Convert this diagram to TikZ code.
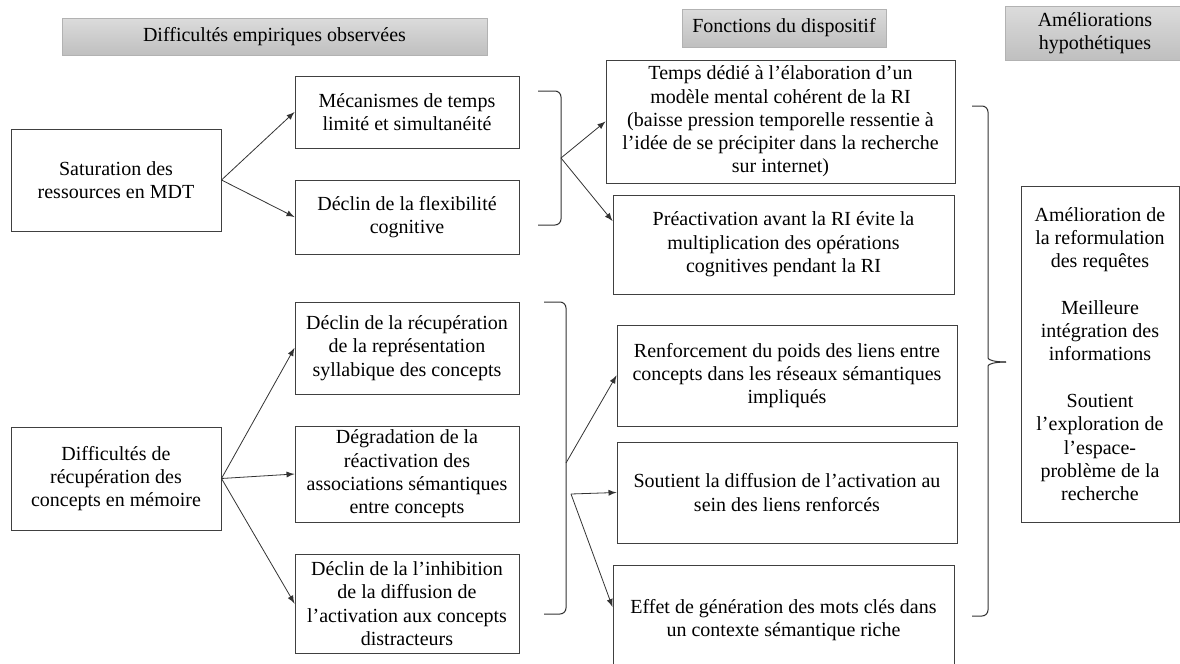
\documentclass[tikz,border=0pt]{standalone}
\usepackage{fontspec}
\setmainfont{Liberation Serif}

\begin{document}
\begin{tikzpicture}[x=0.5pt,y=-0.5pt,
    every node/.style={font=\fontsize{10}{11.65}\selectfont},
    box/.style={draw=black!75,line width=0.5pt,fill=white,align=center,inner sep=1pt},
    head/.style={draw=gray!60,line width=0.4pt,top color=gray!28,bottom color=gray!50,align=center,inner sep=1pt},
    link/.style={draw=black!80,line width=0.4pt,-latex},
    brace/.style={draw=black!80,line width=0.5pt,rounded corners=3pt}]
  \useasboundingbox (0,0) rectangle (1180,664);
  \clip (0,0) rectangle (1180,664);

  \node[head,minimum width=212.5pt,minimum height=18.5pt] (hdA) at (274.5,36.5) {Difficultés empiriques observées};
  \node[head,minimum width=102pt,minimum height=19pt] (hdB) at (784,28) {Fonctions du dispositif};
  \node[head,minimum width=90pt,minimum height=27pt] (hdC) at (1095,33) {Améliorations\\hypothétiques};

  \node[box,minimum width=105pt,minimum height=51pt] (sat) at (116,180) {Saturation des\\ressources en MDT};
  \node[box,minimum width=105pt,minimum height=51.5pt] (dif) at (116,478.5) {Difficultés de\\récupération des\\concepts en mémoire};

  \node[box,minimum width=112pt,minimum height=36pt] (mec) at (407,112) {Mécanismes de temps\\limité et simultanéité};
  \node[box,minimum width=112pt,minimum height=37pt] (flex) at (407,217) {Déclin de la flexibilité\\cognitive};
  \node[box,minimum width=112pt,minimum height=46pt] (recup) at (407,348) {Déclin de la récupération\\de la représentation\\syllabique des concepts};
  \node[box,minimum width=112pt,minimum height=48pt] (degr) at (407,474) {Dégradation de la\\réactivation des\\associations sémantiques\\entre concepts};
  \node[box,minimum width=112pt,minimum height=49.5pt] (inhib) at (407,603.5) {Déclin de la l’inhibition\\de la diffusion de\\l’activation aux concepts\\distracteurs};

  \node[box,minimum width=174.5pt,minimum height=61.5pt] (temps) at (780.5,121.5) {Temps dédié à l’élaboration d’un\\modèle mental cohérent de la RI\\(baisse pression temporelle ressentie à\\l’idée de se précipiter dans la recherche\\sur internet)};
  \node[box,minimum width=170.5pt,minimum height=49.5pt] (preact) at (783.5,244.5) {Préactivation avant la RI évite la\\multiplication des opérations\\cognitives pendant la RI};
  \node[box,minimum width=170pt,minimum height=50.5pt] (renf) at (787,375.5) {Renforcement du poids des liens entre\\concepts dans les réseaux sémantiques\\impliqués};
  \node[box,minimum width=170pt,minimum height=50.5pt] (sout) at (787,492.5) {Soutient la diffusion de l’activation au\\sein des liens renforcés};
  \node[box,minimum width=170.5pt,minimum height=55pt] (effet) at (783.5,620) {Effet de génération des mots clés dans\\un contexte sémantique riche};

  \node[box,minimum width=79pt,minimum height=168pt] (amel) at (1100,354) {Amélioration de\\la reformulation\\des requêtes\\[11.65pt]Meilleure\\intégration des\\informations\\[11.65pt]Soutient\\l’exploration de\\l’espace-\\problème de la\\recherche};

  \draw[brace] (538,91) -- (561,91) -- (561,225) -- (538,225);
  \draw[brace] (544,302) -- (566,302) -- (566,614) -- (544,614);
  \draw[brace] (972,106) -- (988,106) -- (988,352) .. controls (988,360) and (995,362) .. (1006,362);
  \draw[brace] (1006,362) .. controls (995,362) and (988,364) .. (988,372) -- (988,616) -- (972,616);

  \coordinate (brA) at (561,158);
  \coordinate (brB) at (566,463);
  \coordinate (brC) at (571,494);

  \draw[link] (sat.east) -- (mec.west);
  \draw[link] (sat.east) -- (flex.west);
  \draw[link] (dif.east) -- (recup.west);
  \draw[link] (dif.east) -- (degr.west);
  \draw[link] (dif.east) -- (inhib.west);
  \draw[link] (brA) -- (temps.west);
  \draw[link] (brA) -- (preact.west |- 0,221);
  \draw[link] (brB) -- (renf.west);
  \draw[link] (brC) -- (sout.west);
  \draw[link] (brC) -- (effet.west |- 0,607);
\end{tikzpicture}
\end{document}
